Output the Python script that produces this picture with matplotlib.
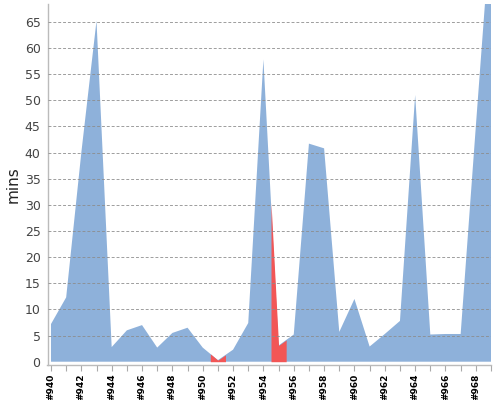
import numpy as np
import matplotlib
matplotlib.use("Agg")
import matplotlib.pyplot as plt

# build numbers and duration per build (minutes)
builds = list(range(940, 970))
mins = [7.2, 12.3, 40.0, 65.2, 2.8, 6.0, 7.0, 2.7, 5.5, 6.5,
        2.7, 0.3, 2.3, 7.4, 57.8, 3.1, 5.2, 41.7, 40.8, 5.7,
        12.0, 2.9, 5.3, 7.8, 51.0, 5.2, 5.3, 5.3, 45.0, 84.0]
failed = [951, 955]
grid_levels = [5, 10, 15, 20, 25, 30, 35, 40, 45, 50, 55, 60, 65]

BLUE = "#8eb1da"
RED = "#f25656"

fig = plt.figure(figsize=(5, 4), dpi=100)
ax = fig.add_axes([47.5 / 500, 35 / 400, (491 - 47.5) / 500, (365 - 4) / 400])

x = np.array(builds, dtype=float)
y = np.array(mins)

ax.fill_between(x, 0, y, color=BLUE, lw=0, zorder=1)

# failed builds: colour the half-step either side of the point
for b in failed:
    i = builds.index(b)
    xs = [b - 0.5, b, b + 0.5]
    ys = [(y[i - 1] + y[i]) / 2, y[i], (y[i] + y[i + 1]) / 2]
    ax.fill_between(xs, 0, ys, color=RED, lw=0, zorder=2)

for g in grid_levels:
    ax.axhline(g, color="#8c8c8c", lw=0.7, ls=(0, (3, 2)), zorder=3, alpha=0.85)

ax.set_xlim(939.77, 969)
ax.set_ylim(-0.63, 68.4)

ax.set_yticks([0] + grid_levels)
ax.tick_params(axis="y", length=0, pad=5, labelsize=9, labelcolor="#444444")

ax.set_xticks(builds[::2])
ax.set_xticklabels(["#%d" % b for b in builds[::2]], rotation=90,
                   fontweight="bold")
ax.set_xticks(builds, minor=True)
ax.tick_params(axis="x", which="both", length=4, color="#aaaaaa", width=0.8,
               labelsize=6.5, pad=2)

for s in ["top", "right"]:
    ax.spines[s].set_visible(False)
for s in ["left", "bottom"]:
    ax.spines[s].set_color("#bbbbbb")
    ax.spines[s].set_linewidth(1)

ax.set_ylabel("mins", fontsize=11, color="#222222", labelpad=3)

fig.savefig("out.png", dpi=100)
